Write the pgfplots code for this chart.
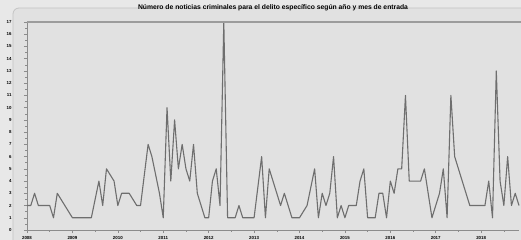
\documentclass[border=0pt]{standalone}
\usepackage{pgfplots}
\pgfplotsset{compat=1.18}
\usepackage{fontspec}
\setmainfont{Liberation Sans}
\definecolor{bgout}{HTML}{E8E8E8}
\definecolor{bgin}{HTML}{E1E1E1}
\definecolor{frame}{HTML}{C4C4C4}
\definecolor{serie}{HTML}{6E6E6E}
\definecolor{axc}{HTML}{8C8C8C}
\definecolor{topc}{HTML}{9C9C9C}
\pgfplotstableread{
m v
0 2
1 2
2 3
3 2
4 2
5 2
6 2
7 1
8 3
9 2.5
10 2
11 1.5
12 1
13 1
14 1
15 1
16 1
17 1
18 2.5
19 4
20 2
21 5
22 4.5
23 4
24 2
25 3
26 3
27 3
28 2.5
29 2
30 2
31 4.5
32 7
33 6
34 4.5
35 3
36 1
37 10
38 4
39 9
40 5
41 7
42 5
43 4
44 7
45 3
46 2
47 1
48 1
49 4
50 5
51 2
52 17
53 1
54 1
55 1
56 2
57 1
58 1
59 1
60 1
61 3.5
62 6
63 1
64 5
65 4
66 3
67 2
68 3
69 2
70 1
71 1
72 1
73 1.5
74 2
75 3.5
76 5
77 1
78 3
79 2
80 3
81 6
82 1
83 2
84 1
85 2
86 2
87 2
88 4
89 5
90 1
91 1
92 1
93 3
94 3
95 1
96 4
97 3
98 5
99 5
100 11
101 4
102 4
103 4
104 4
105 5
106 3
107 1
108 2
109 3
110 5
111 1
112 11
113 6
114 5
115 4
116 3
117 2
118 2
119 2
120 2
121 2
122 4
123 1
124 13
125 4
126 2
127 6
128 2
129 3
130 2
}\datatable
\begin{document}
\begin{tikzpicture}
\fill[bgout] (-27bp,-10bp) rectangle (494bp,230bp);
\filldraw[fill=bgin,draw=frame,line width=0.8bp,rounded corners=6bp] (-14bp,222bp) rectangle (505bp,-20bp);
\begin{axis}[
  scale only axis, width=492bp, height=208bp,
  at={(0,0)}, anchor=south west,
  xmin=0, xmax=130, ymin=0, ymax=17,
  axis x line*=bottom, axis y line*=left,
  axis line style={axc, line width=0.6bp},
  every outer x axis line/.append style={-},
  every outer y axis line/.append style={-},
  xtick={0,12,...,120},
  xticklabels={2008,2009,2010,2011,2012,2013,2014,2015,2016,2017,2018},
  minor xtick={6,18,...,126},
  ytick={0,1,...,17},
  minor ytick={0.5,1.5,...,16.5},
  tick align=outside,
  major tick length=3bp, minor tick length=1.8bp,
  tick style={axc, line width=0.5bp},
  /pgf/number format/assume math mode=true,
  ticklabel style={font=\fontsize{4.4}{5}\selectfont\bfseries, text=black},
  yticklabel style={xshift=-9bp},
  xticklabel style={yshift=0.5bp},
  title={\fontsize{6.8}{7}\selectfont\bfseries N\'umero de noticias criminales para el delito espec\'ifico seg\'un a\~no y mes de entrada},
  title style={at={(0.5,1)}, anchor=south, yshift=1.2bp},
  clip=false,
]
\addplot[serie, line width=1.1bp, line join=round] table[x=m, y=v] {\datatable};
\draw[color=topc, line width=1.4bp] (rel axis cs:0,1) -- (rel axis cs:1.01,1);
\end{axis}
\pgfresetboundingbox
\path (-27bp,-10bp) rectangle (494bp,230bp);
\end{tikzpicture}
\end{document}
